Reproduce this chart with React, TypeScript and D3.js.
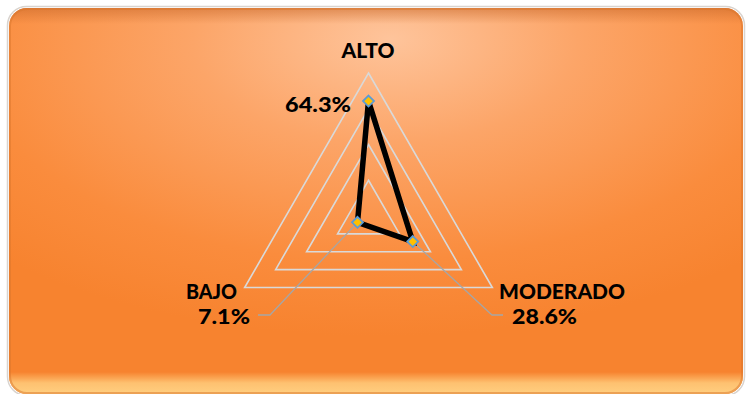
import React, { useEffect } from "react";
import * as d3 from "d3";

const categories = ["ALTO", "MODERADO", "BAJO"];
const values = [64.3, 28.6, 7.1];
const valueLabels = ["64.3%", "28.6%", "7.1%"];
const gridTicks = [20, 40, 60, 80];

export default function App() {
  useEffect(() => {
    document.body.style.margin = "0";
  }, []);
  const W = 746, H = 394;
  const cx = 368.5, cy = 216;
  const r = d3.scaleLinear().domain([0, 80]).range([0, 143]);
  const angle = (i: number) => -Math.PI / 2 + (i * 2 * Math.PI) / categories.length;
  const pt = (i: number, v: number): [number, number] => [
    cx + r(v) * Math.cos(angle(i)),
    cy + r(v) * Math.sin(angle(i)),
  ];
  const closed = d3.line().curve(d3.curveLinearClosed);
  const font = "Lato, 'Open Sans', sans-serif";

  const catPos = [
    { x: 368, y: 57.5, anchor: "middle" },
    { x: 499, y: 299, anchor: "start" },
    { x: 186, y: 299, anchor: "start" },
  ];
  const valPos = [
    { x: 351, y: 111.5, anchor: "end" },
    { x: 512, y: 323.5, anchor: "start" },
    { x: 250, y: 324, anchor: "end" },
  ];
  const leaders: ([number, number][] | null)[] = [
    null,
    [pt(1, values[1]), [492, 315], [503, 315]],
    [pt(2, values[2]), [270, 315], [258, 315]],
  ];
  const catW = [53, 126, 51];
  const valW = [66, 65, 52];

  return (
    <svg width={W} height={H} style={{ position: "absolute", left: 0, top: 0, display: "block" }}>
      <defs>
        <radialGradient id="bg" cx="0.5" cy="0.1" r="0.75" fx="0.52" fy="0.08">
          <stop offset="0" stopColor="#FEC49B" />
          <stop offset="0.35" stopColor="#FCA568" />
          <stop offset="0.75" stopColor="#FA8C3D" />
          <stop offset="1" stopColor="#F7832F" />
        </radialGradient>
        <linearGradient id="topBevel" x1="0" y1="0" x2="0" y2="1">
          <stop offset="0" stopColor="#C8682A" stopOpacity="0.55" />
          <stop offset="1" stopColor="#C8682A" stopOpacity="0" />
        </linearGradient>
        <linearGradient id="botGlow" x1="0" y1="0" x2="0" y2="1">
          <stop offset="0" stopColor="#FFC878" stopOpacity="0" />
          <stop offset="0.5" stopColor="#FFC878" stopOpacity="0.9" />
          <stop offset="1" stopColor="#FFCF80" stopOpacity="1" />
        </linearGradient>
        <clipPath id="clip">
          <rect x={9} y={8} width={734} height={386} rx={18} />
        </clipPath>
      </defs>
      <rect x={0} y={0} width={W} height={H} fill="#ffffff" />
      <rect x={7.5} y={6.5} width={737} height={389} rx={19} fill="none" stroke="#d9d4cf" strokeWidth={1.5} />
      <g clipPath="url(#clip)">
        <rect x={9} y={8} width={734} height={386} fill="url(#bg)" />
        <rect x={9} y={8} width={734} height={16} fill="url(#topBevel)" />
        <rect x={9} y={372} width={734} height={22} fill="url(#botGlow)" />
        <rect x={9} y={8} width={734} height={386} rx={18} fill="none" stroke="#D9752C" strokeWidth={4} strokeOpacity={0.5} />
      </g>

      {gridTicks.map((t) => (
        <path
          key={t}
          d={closed(categories.map((_, i) => pt(i, t))) || ""}
          fill="none"
          stroke="#D9D9D9"
          strokeWidth={1.6}
        />
      ))}

      {leaders.map((l, i) =>
        l ? (
          <path key={i} d={d3.line()(l) || ""} fill="none" stroke="#A6A6A6" strokeWidth={1.3} />
        ) : null
      )}

      <path
        d={closed(values.map((v, i) => pt(i, v))) || ""}
        fill="none"
        stroke="#000"
        strokeWidth={5.5}
        strokeLinejoin="miter"
      />

      {values.map((v, i) => {
        const [x, y] = pt(i, v);
        const s = 5.5;
        return (
          <path
            key={i}
            d={`M${x},${y - s}L${x + s},${y}L${x},${y + s}L${x - s},${y}Z`}
            fill="#FFC000"
            stroke="#5B9BD5"
            strokeWidth={1.8}
          />
        );
      })}

      {categories.map((c, i) => (
        <text
          key={c}
          x={catPos[i].x}
          y={catPos[i].y}
          textAnchor={catPos[i].anchor as any}
          fontFamily={font}
          fontWeight={900}
          fontSize={20}
          fill="#000"
          textLength={catW[i]}
          lengthAdjust="spacingAndGlyphs"
        >
          {c}
        </text>
      ))}
      {valueLabels.map((c, i) => (
        <text
          key={c}
          x={valPos[i].x}
          y={valPos[i].y}
          textAnchor={valPos[i].anchor as any}
          fontFamily={font}
          fontWeight={900}
          fontSize={21}
          fill="#000"
          textLength={valW[i]}
          lengthAdjust="spacingAndGlyphs"
        >
          {c}
        </text>
      ))}
    </svg>
  );
}
